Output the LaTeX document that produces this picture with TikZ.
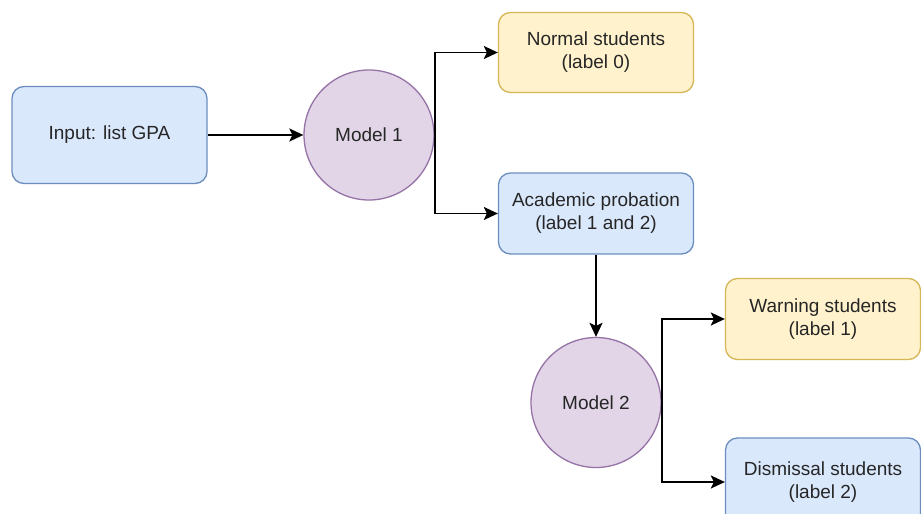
\documentclass[tikz,border=0pt]{standalone}
\usepackage{fontspec}
\setmainfont{Liberation Sans}
\usetikzlibrary{arrows.meta}
\definecolor{bfill}{HTML}{DAE8FC}\definecolor{bdraw}{HTML}{6C8EBF}
\definecolor{yfill}{HTML}{FFF2CC}\definecolor{ydraw}{HTML}{D6B656}
\definecolor{pfill}{HTML}{E1D5E7}\definecolor{pdraw}{HTML}{9673A6}
\definecolor{txt}{HTML}{262626}
\begin{document}
\begin{tikzpicture}[x=1pt,y=-1pt,
  every node/.style={font=\fontsize{19}{23}\selectfont, text=txt, align=center, line width=1.3pt},
  bluebox/.style={draw=bdraw, fill=bfill, rounded corners=12pt, minimum width=195pt, inner sep=0pt},
  yellowbox/.style={draw=ydraw, fill=yfill, rounded corners=12pt, minimum width=195pt, inner sep=0pt},
  modelnode/.style={circle, draw=pdraw, fill=pfill, minimum size=130pt, inner sep=0pt},
  conn/.style={line width=1.8pt, -{Stealth[length=14pt,width=13pt,inset=3pt]}}]
\useasboundingbox (0,0) rectangle (921,514);
\clip (0,0) rectangle (921,514);
\fill[white] (0,0) rectangle (921,514);
\node[bluebox, minimum height=97pt] (inp) at (109.5,135) {Input: list GPA};
\node[modelnode] (m1) at (369,135) {Model 1};
\node[yellowbox, minimum height=80pt] (normal) at (596,52.5) {Normal students\\(label 0)};
\node[bluebox, minimum height=81pt] (acad) at (596,213.5) {Academic probation\\(label 1 and 2)};
\node[modelnode] (m2) at (596,402.5) {Model 2};
\node[yellowbox, minimum height=81pt] (warn) at (823,319) {Warning students\\(label 1)};
\node[bluebox, minimum height=88pt] (dism) at (823,482) {Dismissal students\\(label 2)};
\draw[conn] (inp.east) -- (m1.west);
\draw[conn] (m1.east) |- (normal.west);
\draw[conn] (m1.east) |- (acad.west);
\draw[conn] (acad.south) -- (m2.north);
\draw[conn] (m2.east) |- (warn.west);
\draw[conn] (m2.east) |- (dism.west);
\end{tikzpicture}
\end{document}
